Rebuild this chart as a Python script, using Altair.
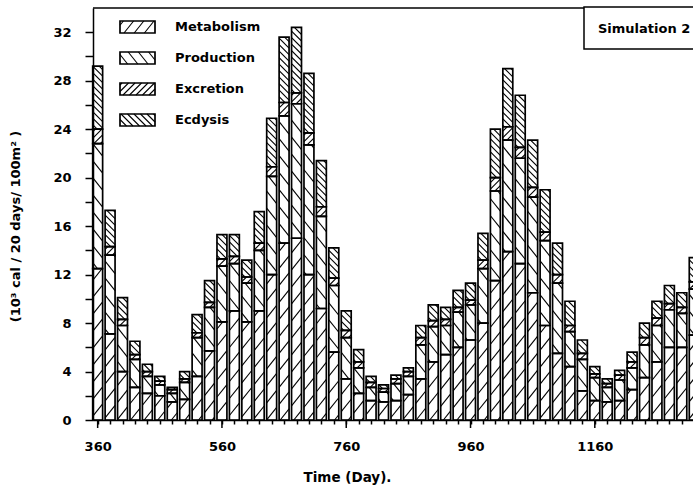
import math
import altair as alt
import pandas as pd

# ---------------- data ----------------
days = [360, 380, 400, 420, 440, 460, 480, 500, 520, 540, 560, 580, 600, 620,
        640, 660, 680, 700, 720, 740, 760, 780, 800, 820, 840, 860, 880, 900,
        920, 940, 960, 980, 1000, 1020, 1040, 1060, 1080, 1100, 1120, 1140,
        1160, 1180, 1200, 1220, 1240, 1260, 1280, 1300, 1320]
metabolism = [12.5, 7.1, 4.0, 2.7, 2.2, 2.0, 1.5, 1.7, 3.6, 5.7, 8.1, 9.0, 8.1, 9.0,
              12.0, 14.6, 15.0, 12.0, 9.2, 5.6, 3.4, 2.2, 1.6, 1.5, 1.6, 2.1, 3.4, 4.8,
              5.4, 6.0, 6.6, 8.0, 11.5, 13.9, 12.9, 10.5, 7.8, 5.5, 4.4, 2.4,
              1.6, 1.5, 1.6, 2.5, 3.5, 4.8, 6.0, 6.0, 7.0]
production = [10.3, 6.5, 3.8, 2.3, 1.4, 0.9, 0.7, 1.4, 3.2, 3.6, 4.6, 3.9, 3.2, 5.0,
              8.1, 10.5, 11.1, 10.7, 7.6, 5.5, 3.4, 2.1, 1.1, 0.8, 1.4, 1.5, 2.8, 2.9,
              2.4, 2.9, 2.9, 4.5, 7.4, 9.2, 8.7, 7.9, 7.0, 5.8, 2.9, 2.6,
              1.9, 1.2, 1.7, 1.8, 2.7, 3.0, 3.1, 2.8, 3.8]
excretion = [1.2, 0.7, 0.5, 0.4, 0.4, 0.3, 0.3, 0.3, 0.4, 0.4, 0.6, 0.6, 0.5, 0.6,
             0.8, 1.1, 0.9, 1.0, 0.8, 0.6, 0.6, 0.5, 0.4, 0.3, 0.4, 0.4, 0.6, 0.5,
             0.5, 0.4, 0.4, 0.7, 1.1, 1.1, 0.9, 0.8, 0.7, 0.7, 0.5, 0.5,
             0.3, 0.3, 0.4, 0.5, 0.6, 0.6, 0.5, 0.5, 0.6]
ecdysis = [5.2, 3.0, 1.8, 1.1, 0.6, 0.4, 0.2, 0.6, 1.5, 1.8, 2.0, 1.8, 1.4, 2.6,
           4.0, 5.4, 5.4, 4.9, 3.8, 2.5, 1.6, 1.0, 0.5, 0.3, 0.3, 0.3, 1.0, 1.3,
           1.0, 1.4, 1.4, 2.2, 4.0, 4.8, 4.3, 3.9, 3.5, 2.6, 2.0, 1.1,
           0.6, 0.4, 0.4, 0.8, 1.2, 1.4, 1.5, 1.2, 2.0]
categories = ["Metabolism", "Production", "Excretion", "Ecdysis"]
x_label_days = [360, 560, 760, 960, 1160]
y_title = "(10\u00b3 cal / 20 days/ 100m\u00b2 )"
x_title = "Time (Day)."
box_text = "Simulation 2"

# ---------------- layout / style ----------------
W, H = 600, 412
XMIN, XMAX = 352.5, 1318.0
YMIN, YMAX = 0.0, 34.0
KX = W / (XMAX - XMIN)
KY = H / (YMAX - YMIN)
HALF = 8.0  # half bar width in days
FONT = "DejaVu Sans"
# hatch style per category: (direction, slope, vertical pitch in px)
styles = {"Metabolism": ("/", 1.25, 17.0),
          "Production": ("\\", 1.25, 17.0),
          "Excretion": ("/", 1.0, 6.5),
          "Ecdysis": ("\\", 1.0, 6.5)}


def to_px_x(d):
    return (d - XMIN) * KX


def to_px_y(v):
    return (YMAX - v) * KY


def to_dx(px):
    return XMIN + px / KX


def to_dy(py):
    return YMAX - py / KY


def hatch(xl, xr, yt, yb, direction, s, P):
    out = []
    if direction == "/":
        cmin, cmax = yt + s * xl, yb + s * xr
    else:
        cmin, cmax = yt - s * xr, yb - s * xl
    for k in range(math.floor(cmin / P), math.ceil(cmax / P) + 1):
        C = k * P
        if direction == "/":
            xa, xb = (C - yb) / s, (C - yt) / s
        else:
            xa, xb = (yt - C) / s, (yb - C) / s
        xa, xb = max(xl, xa), min(xr, xb)
        if xb - xa > 0.4:
            if direction == "/":
                ya, yb2 = C - s * xa, C - s * xb
            else:
                ya, yb2 = C + s * xa, C + s * xb
            out.append((xa, ya, xb, yb2))
    return out


seg_rows, hatch_rows = [], []
series = {"Metabolism": metabolism, "Production": production,
          "Excretion": excretion, "Ecdysis": ecdysis}
for i, d in enumerate(days):
    lo = 0.0
    for c in categories:
        hi = lo + series[c][i]
        seg_rows.append({"x": d - HALF, "x2": d + HALF, "lo": lo, "hi": hi, "cat": c})
        dirn, s, P = styles[c]
        for (xa, ya, xb, yb) in hatch(to_px_x(d - HALF), to_px_x(d + HALF),
                                      to_px_y(hi), to_px_y(lo), dirn, s, P):
            hatch_rows.append({"hx": to_dx(xa), "hy": to_dy(ya),
                               "hx2": to_dx(xb), "hy2": to_dy(yb)})
        lo = hi

# legend (in pixel layout, converted to data units)
leg_rows, leg_text = [], []
for j, c in enumerate(categories):
    cy = 19 + 31 * j
    xl, xr, yt, yb = 27, 62, cy - 6, cy + 6
    leg_rows.append({"x": to_dx(xl), "x2": to_dx(xr), "lo": to_dy(yb), "hi": to_dy(yt), "cat": c})
    dirn, s, P = styles[c]
    for (xa, ya, xb, yb2) in hatch(xl, xr, yt, yb, dirn, s, P * 0.75 if P > 10 else P):
        hatch_rows.append({"hx": to_dx(xa), "hy": to_dy(ya),
                           "hx2": to_dx(xb), "hy2": to_dy(yb2)})
    leg_text.append({"x": to_dx(82), "lo": to_dy(cy), "label": c})

segs = pd.DataFrame(seg_rows + leg_rows)
hatches = pd.DataFrame(hatch_rows)
texts = pd.DataFrame(leg_text)
box = pd.DataFrame([{"x": to_dx(491), "x2": to_dx(720), "lo": to_dy(41), "hi": to_dy(-1)}])
box_t = pd.DataFrame([{"x": to_dx(505), "lo": to_dy(21), "label": box_text}])
majors = pd.DataFrame({"x": x_label_days})
one = pd.DataFrame({"x": [XMIN]})

xs = alt.Scale(domain=[XMIN, XMAX], nice=False, zero=False)
ys = alt.Scale(domain=[YMIN, YMAX], nice=False, zero=False)

x_axis = alt.Axis(values=days[:-1], tickSize=4, tickWidth=1.5, domainWidth=1.5,
                  domainColor="black", tickColor="black", grid=False, format="d",
                  labelExpr="(datum.value - 360) % 200 == 0 ? datum.label : ''",
                  labelFont=FONT, labelFontSize=13, labelFontWeight="bold",
                  labelColor="black", labelPadding=16, labelFlush=False,
                  labelOverlap=False,
                  title=x_title, titleFont=FONT, titleFontSize=13.5,
                  titleFontWeight="bold", titleColor="black", titleX=254, titleY=57,
                  titleBaseline="middle", titleAlign="center")
y_axis = alt.Axis(values=list(range(0, 33, 2)), tickSize=8, tickWidth=1.5,
                  domainWidth=1.5, domainColor="black", tickColor="black", grid=False,
                  labelExpr="datum.value % 4 == 0 ? datum.label : ''",
                  labelFont=FONT, labelFontSize=13, labelFontWeight="bold",
                  labelColor="black", labelPadding=14, labelOverlap=False,
                  title=y_title, titleFont=FONT, titleFontSize=13,
                  titleFontWeight="bold", titleColor="black", titleX=-78, titleY=218,
                  titleBaseline="middle", titleAlign="center", titleAngle=270)

X = lambda f: alt.X(f, type="quantitative", scale=xs, axis=x_axis, title=x_title)
Y = lambda f: alt.Y(f, type="quantitative", scale=ys, axis=y_axis, title=y_title)

seg_layer = alt.Chart(segs).mark_bar(fillOpacity=0, stroke="black", strokeWidth=1.7).encode(
    x=X("x"), x2="x2:Q", y=Y("lo"), y2="hi:Q")

hatch_layer = alt.Chart(hatches).mark_rule(color="black", strokeWidth=1.1).encode(
    x=X("hx"), x2="hx2:Q", y=Y("hy"), y2="hy2:Q")

major_ticks = alt.Chart(majors).mark_rule(color="black", strokeWidth=1.5).encode(
    x=X("x"), y=alt.value(H), y2=alt.value(H + 8))

top_line = alt.Chart(one).mark_rule(color="black", strokeWidth=1.5).encode(
    x=X("x"), x2=alt.value(W + 10), y=alt.value(0))

legend_text = alt.Chart(texts).mark_text(
    align="left", baseline="middle", font=FONT, fontSize=13, fontWeight="bold",
    color="black").encode(x=X("x"), y=Y("lo"), text="label:N")

box_rect = alt.Chart(box).mark_rect(fill="white", stroke="black", strokeWidth=1.5).encode(
    x=X("x"), x2="x2:Q", y=Y("lo"), y2="hi:Q")
box_label = alt.Chart(box_t).mark_text(
    align="left", baseline="middle", font=FONT, fontSize=13, fontWeight="bold",
    color="black").encode(x=X("x"), y=Y("lo"), text="label:N")

chart = alt.layer(seg_layer, hatch_layer, major_ticks, top_line, legend_text,
                  box_rect, box_label).properties(
    width=W, height=H,
    autosize=alt.AutoSizeParams(type="none"),
    padding={"left": 93, "top": 8, "right": 0, "bottom": 68},
    background="white",
).configure_view(stroke=None)

chart.save("out.html", embed_options={"renderer": "svg", "actions": False})
